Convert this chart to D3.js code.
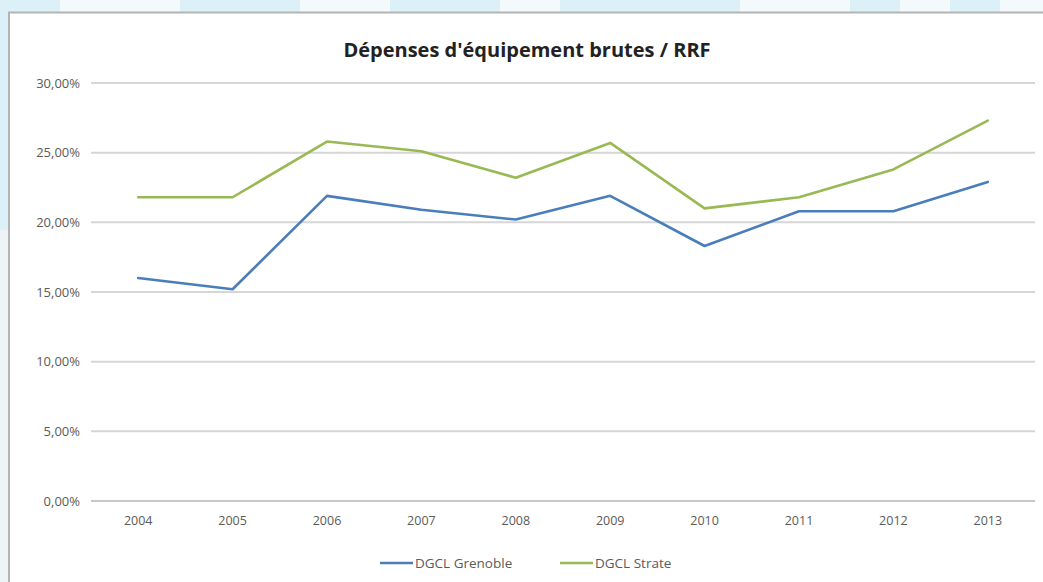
<!DOCTYPE html>
<html><head><meta charset="utf-8">
<script src="https://cdn.jsdelivr.net/npm/d3@7"></script>
<style>
html,body{margin:0;padding:0;background:#fff;}
svg{display:block;}
</style></head>
<body>
<svg id="c" width="1043" height="582"></svg>
<script>
const title = "Dépenses d'équipement brutes / RRF";
const years = ["2004","2005","2006","2007","2008","2009","2010","2011","2012","2013"];
const grenoble = [16.0, 15.2, 21.9, 20.9, 20.2, 21.9, 18.3, 20.8, 20.8, 22.9];
const strate = [21.8, 21.8, 25.8, 25.1, 23.2, 25.7, 21.0, 21.8, 23.8, 27.3];
const yTicks = [0, 5, 10, 15, 20, 25, 30];
const seriesNames = ["DGCL Grenoble", "DGCL Strate"];
const seriesColors = ["#4a7ebb", "#98b954"];

const svg = d3.select("#c");
const font = "'Open Sans',sans-serif";

// background watermark-ish surround
svg.append("rect").attr("x",0).attr("y",0).attr("width",1043).attr("height",582).attr("fill","#dcf0f8");
[[60,0,120,12],[300,0,90,12],[500,0,60,12],[740,0,110,12],[900,0,50,12],[1000,0,43,12]].forEach(r=>{
  svg.append("rect").attr("x",r[0]).attr("y",r[1]).attr("width",r[2]).attr("height",r[3]).attr("fill","#f4f9fb");
});
svg.append("rect").attr("x",0).attr("y",230).attr("width",8).attr("height",352).attr("fill","#eef3f5");
// chart box
svg.append("rect").attr("x",9).attr("y",12.5).attr("width",1040).attr("height",580)
  .attr("fill","#fff").attr("stroke","#b4b4b4").attr("stroke-width",2);

const margin = {left:91, right:1035, top:83, bottom:501};
const x = d3.scaleBand().domain(years).range([margin.left, margin.right]);
const y = d3.scaleLinear().domain([0,30]).range([margin.bottom, margin.top]);

// gridlines
svg.append("g").selectAll("line").data(yTicks).join("line")
  .attr("x1", margin.left).attr("x2", margin.right)
  .attr("y1", d=>y(d)).attr("y2", d=>y(d))
  .attr("stroke", d=> d===0 ? "#c8c8c8" : "#d6d6d6").attr("stroke-width", 2);

// y axis labels
const yAxis = d3.axisLeft(y).tickValues(yTicks).tickSize(0).tickPadding(0)
  .tickFormat(d => d3.format(".2f")(d).replace(".", ",") + "%");
const gy = svg.append("g").attr("transform", `translate(80,0)`).call(yAxis);
gy.select(".domain").remove();
gy.selectAll("text").attr("font-family", font).attr("font-size", 13).attr("fill", "#5a5a5a");

// x axis labels
const xAxis = d3.axisBottom(x).tickSize(0).tickPadding(0);
const gx = svg.append("g").attr("transform", `translate(0,${margin.bottom+15})`).call(xAxis);
gx.select(".domain").remove();
gx.selectAll("text").attr("font-family", font).attr("font-size", 12.5).attr("fill", "#5a5a5a");

// lines
const line = d3.line().x((d,i)=>x(years[i]) + x.bandwidth()/2).y(d=>y(d));
[grenoble, strate].forEach((s,i)=>{
  svg.append("path").datum(s).attr("d", line).attr("fill","none")
    .attr("stroke", seriesColors[i]).attr("stroke-width", 2.6)
    .attr("stroke-linejoin","round").attr("stroke-linecap","round");
});

// title
svg.append("text").attr("x", 527).attr("y", 57).attr("text-anchor","middle")
  .attr("font-family", font).attr("font-weight","bold").attr("font-size", 20).attr("fill","#222")
  .text(title);

// legend
const legX = [380, 560];
seriesNames.forEach((n,i)=>{
  const g = svg.append("g").attr("transform", `translate(${legX[i]},563)`);
  g.append("line").attr("x1",0).attr("x2",33).attr("y1",0).attr("y2",0)
    .attr("stroke", seriesColors[i]).attr("stroke-width", 2.4);
  g.append("text").attr("x",35).attr("y",5).attr("font-family", font).attr("font-size", 13.5)
    .attr("fill","#5a5a5a").text(n);
});
</script>
</body></html>
